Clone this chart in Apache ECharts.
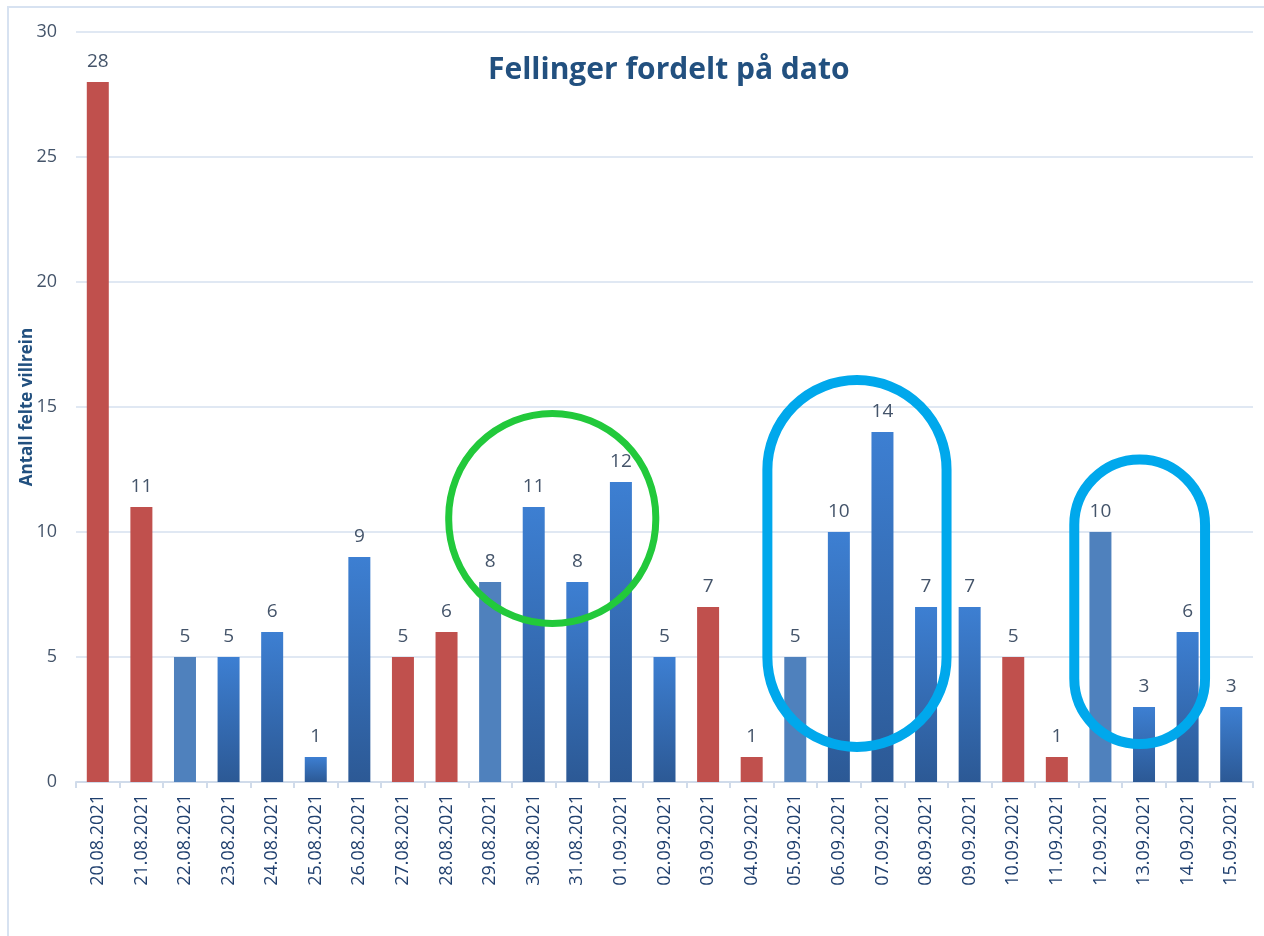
<!DOCTYPE html>
<html>
<head>
<meta charset="utf-8">
<script src="https://cdn.jsdelivr.net/npm/echarts@6/dist/echarts.min.js"></script>
<style>
html, body { margin: 0; padding: 0; background: #fff; overflow: hidden; }
#frame { position: absolute; left: 7px; top: 6px; width: 1300px; height: 1000px; border: 2px solid #d7e2f1; }
#chart { position: absolute; left: 0; top: 0; width: 1264px; height: 936px; }
</style>
</head>
<body>
<div id="frame"></div>
<div id="chart"></div>
<script>
var dates = ['20.08.2021', '21.08.2021', '22.08.2021', '23.08.2021', '24.08.2021', '25.08.2021',
  '26.08.2021', '27.08.2021', '28.08.2021', '29.08.2021', '30.08.2021', '31.08.2021', '01.09.2021',
  '02.09.2021', '03.09.2021', '04.09.2021', '05.09.2021', '06.09.2021', '07.09.2021', '08.09.2021',
  '09.09.2021', '10.09.2021', '11.09.2021', '12.09.2021', '13.09.2021', '14.09.2021', '15.09.2021'];
var values = [28, 11, 5, 5, 6, 1, 9, 5, 6, 8, 11, 8, 12, 5, 7, 1, 5, 10, 14, 7, 7, 5, 1, 10, 3, 6, 3];
var redDates = ['20.08.2021', '21.08.2021', '27.08.2021', '28.08.2021', '03.09.2021', '04.09.2021',
  '10.09.2021', '11.09.2021'];
var lightDates = ['22.08.2021', '29.08.2021', '05.09.2021', '12.09.2021'];
var yTicks = [0, 5, 10, 15, 20, 25, 30];

// markeringer: fra/til i kategoriindeks, lav/høy i antall felte
var rings = [
  { from: 8.05, to: 12.8, low: 6.34, high: 14.74 },
  { from: 15.36, to: 19.47, low: 1.4, high: 16.08 },
  { from: 22.4, to: 25.4, low: 1.52, high: 12.9 }
];
var ringColors = ['#22c93b', '#00a8ec', '#00a8ec'];
var ringWidths = [7, 10, 10];

var chart = echarts.init(document.getElementById('chart'));

var blueGrad = new echarts.graphic.LinearGradient(0, 0, 0, 1, [
  { offset: 0, color: '#3d7fd2' },
  { offset: 1, color: '#2c5995' }
]);

var barData = values.map(function (v, i) {
  var d = dates[i];
  var col = blueGrad;
  if (redDates.indexOf(d) >= 0) col = '#c0504d';
  else if (lightDates.indexOf(d) >= 0) col = '#4f81bd';
  return { value: v, itemStyle: { color: col } };
});

var option = {
  animation: false,
  title: {
    text: 'Fellinger fordelt på dato',
    left: 488,
    top: 55,
    padding: 0,
    textStyle: { fontFamily: 'Open Sans', fontWeight: 'bold', fontSize: 30, color: '#22507f' }
  },
  grid: { left: 76, right: 11, top: 32, bottom: 154 },
  xAxis: {
    type: 'category',
    data: dates,
    axisLine: { lineStyle: { color: '#d0dbea', width: 2 } },
    axisTick: { show: true, length: 6, lineStyle: { color: '#d0dbea', width: 2 } },
    axisLabel: {
      rotate: 90, interval: 0, margin: 12,
      fontFamily: 'Open Sans', fontSize: 18, color: '#1f3f6e'
    }
  },
  yAxis: {
    type: 'value',
    min: yTicks[0],
    max: yTicks[yTicks.length - 1],
    interval: 5,
    name: 'Antall felte villrein',
    nameLocation: 'middle',
    nameGap: 40,
    nameMoveOverlap: false,
    nameTextStyle: { fontFamily: 'Open Sans', fontWeight: 'bold', fontSize: 17, color: '#22507f' },
    axisLine: { show: false },
    axisTick: { show: false },
    axisLabel: { margin: 19, fontFamily: 'Open Sans', fontSize: 18, color: '#44546a' },
    splitLine: { lineStyle: { color: '#d6e0ef', width: 1.5 } }
  },
  series: [
    {
      type: 'bar',
      data: barData,
      barWidth: 22,
      label: {
        show: true, position: 'top', distance: 11,
        fontFamily: 'Open Sans', fontSize: 19, color: '#44546a'
      }
    },
    {
      type: 'custom',
      clip: false,
      z: 10,
      silent: true,
      data: rings.map(function () { return [0, 0]; }),
      renderItem: function (params, api) {
        var r = rings[params.dataIndex];
        var origin = api.coord([0, 0]);
        var band = api.size([1, 0])[0];
        var x0 = origin[0] + r.from * band;
        var x1 = origin[0] + r.to * band;
        var yTop = api.coord([0, r.high])[1];
        var yBot = api.coord([0, r.low])[1];
        var w = x1 - x0, h = yBot - yTop;
        return {
          type: 'rect',
          shape: { x: x0, y: yTop, width: w, height: h, r: Math.min(w, h) / 2 },
          style: { fill: 'none', stroke: ringColors[params.dataIndex], lineWidth: ringWidths[params.dataIndex] }
        };
      }
    }
  ]
};
chart.setOption(option);
</script>
</body>
</html>
